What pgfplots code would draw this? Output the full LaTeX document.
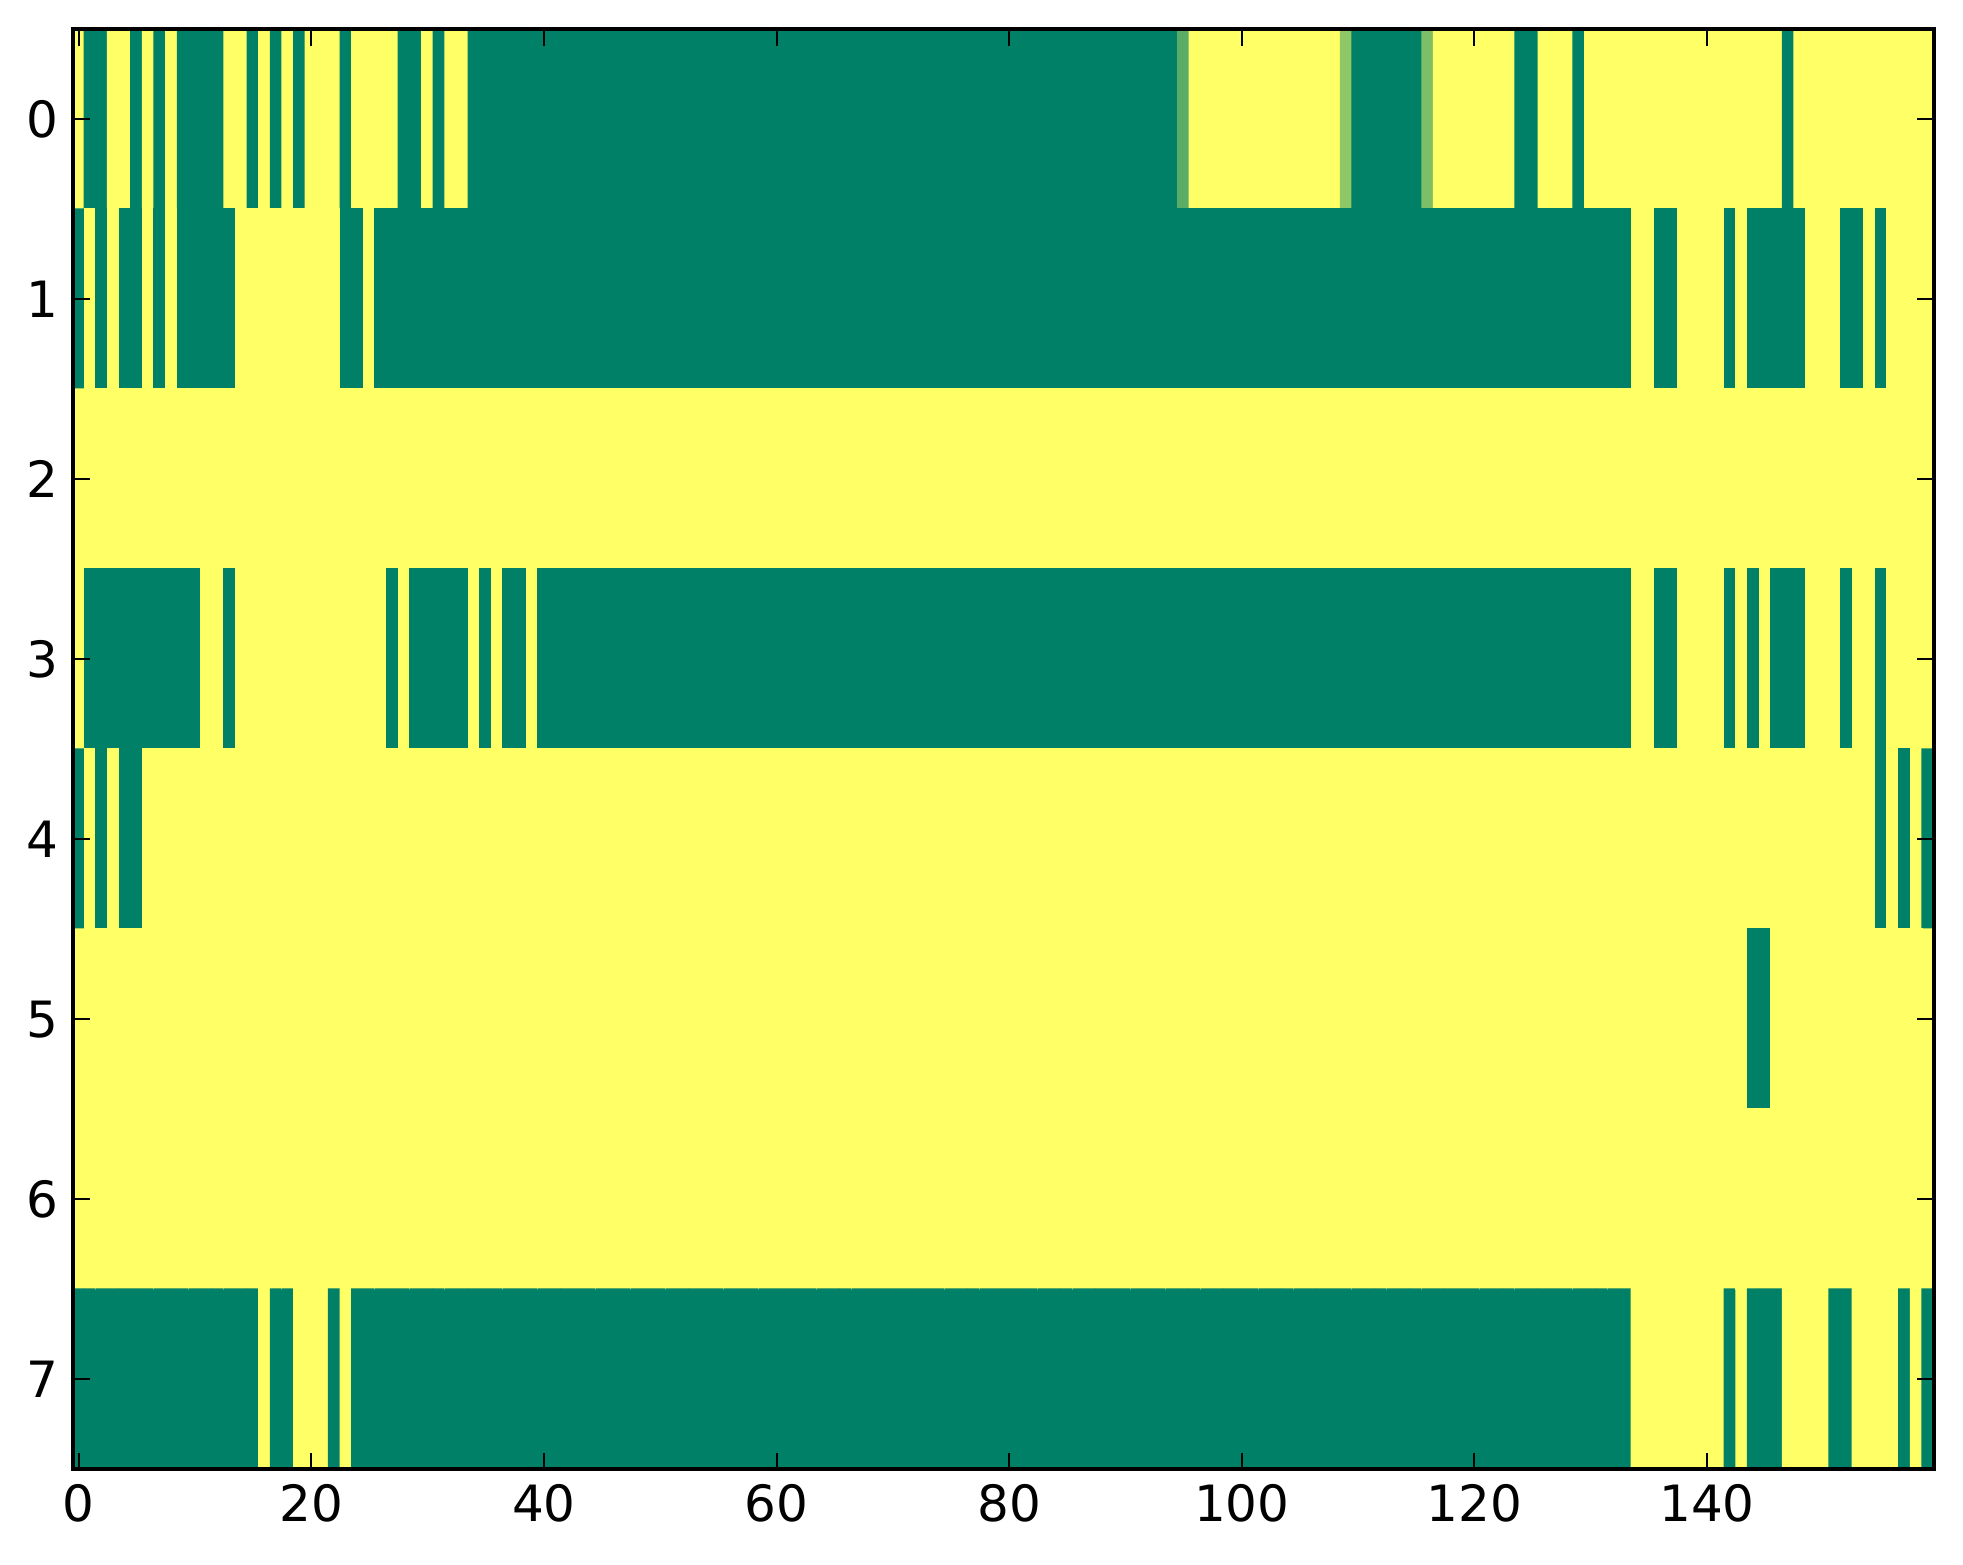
\documentclass[border=0pt]{standalone}
\usepackage{fontspec}
\setmainfont{DejaVu Sans}
\usepackage{pgfplots}
\usepackage{pgfplotstable}
\pgfplotsset{compat=1.18}
\newcommand\chk[2]{\pgfplotstablegetrowsof{#1}\ifnum\pgfplotsretval=160 \else\errmessage{ROW #2 HAS \pgfplotsretval\space ENTRIES}\fi}
\pgfplotstableread[row sep=\\,header=false]{
1\\0\\0\\1\\1\\0\\1\\0\\1\\0\\0\\0\\0\\1\\1\\0\\1\\0\\1\\0\\
1\\1\\1\\0\\1\\1\\1\\1\\0\\0\\1\\0\\1\\1\\0\\0\\0\\0\\0\\0\\
0\\0\\0\\0\\0\\0\\0\\0\\0\\0\\0\\0\\0\\0\\0\\0\\0\\0\\0\\0\\
0\\0\\0\\0\\0\\0\\0\\0\\0\\0\\0\\0\\0\\0\\0\\0\\0\\0\\0\\0\\
0\\0\\0\\0\\0\\0\\0\\0\\0\\0\\0\\0\\0\\0\\0\\0.35\\1\\1\\1\\1\\
1\\1\\1\\1\\1\\1\\1\\1\\1\\0.56\\0\\0\\0\\0\\0\\0\\0.49\\1\\1\\1\\
1\\1\\1\\1\\0\\0\\1\\1\\1\\0\\1\\1\\1\\1\\1\\1\\1\\1\\1\\1\\
1\\1\\1\\1\\1\\1\\1\\0\\1\\1\\1\\1\\1\\1\\1\\1\\1\\1\\1\\1\\
}\grid
\pgfplotstableread[row sep=\\,header=false]{
0\\1\\0\\1\\0\\0\\1\\0\\1\\0\\0\\0\\0\\0\\1\\1\\1\\1\\1\\1\\
1\\1\\1\\0\\0\\1\\0\\0\\0\\0\\0\\0\\0\\0\\0\\0\\0\\0\\0\\0\\
0\\0\\0\\0\\0\\0\\0\\0\\0\\0\\0\\0\\0\\0\\0\\0\\0\\0\\0\\0\\
0\\0\\0\\0\\0\\0\\0\\0\\0\\0\\0\\0\\0\\0\\0\\0\\0\\0\\0\\0\\
0\\0\\0\\0\\0\\0\\0\\0\\0\\0\\0\\0\\0\\0\\0\\0\\0\\0\\0\\0\\
0\\0\\0\\0\\0\\0\\0\\0\\0\\0\\0\\0\\0\\0\\0\\0\\0\\0\\0\\0\\
0\\0\\0\\0\\0\\0\\0\\0\\0\\0\\0\\0\\0\\0\\1\\1\\0\\0\\1\\1\\
1\\1\\0\\1\\0\\0\\0\\0\\0\\1\\1\\1\\0\\0\\1\\0\\1\\1\\1\\1\\
}\rB
\pgfplotstableread[row sep=\\,header=false]{
1\\1\\1\\1\\1\\1\\1\\1\\1\\1\\1\\1\\1\\1\\1\\1\\1\\1\\1\\1\\
1\\1\\1\\1\\1\\1\\1\\1\\1\\1\\1\\1\\1\\1\\1\\1\\1\\1\\1\\1\\
1\\1\\1\\1\\1\\1\\1\\1\\1\\1\\1\\1\\1\\1\\1\\1\\1\\1\\1\\1\\
1\\1\\1\\1\\1\\1\\1\\1\\1\\1\\1\\1\\1\\1\\1\\1\\1\\1\\1\\1\\
1\\1\\1\\1\\1\\1\\1\\1\\1\\1\\1\\1\\1\\1\\1\\1\\1\\1\\1\\1\\
1\\1\\1\\1\\1\\1\\1\\1\\1\\1\\1\\1\\1\\1\\1\\1\\1\\1\\1\\1\\
1\\1\\1\\1\\1\\1\\1\\1\\1\\1\\1\\1\\1\\1\\1\\1\\1\\1\\1\\1\\
1\\1\\1\\1\\1\\1\\1\\1\\1\\1\\1\\1\\1\\1\\1\\1\\1\\1\\1\\1\\
}\rC
\pgfplotstableread[row sep=\\,header=false]{
1\\0\\0\\0\\0\\0\\0\\0\\0\\0\\0\\1\\1\\0\\1\\1\\1\\1\\1\\1\\
1\\1\\1\\1\\1\\1\\1\\0\\1\\0\\0\\0\\0\\0\\1\\0\\1\\0\\0\\1\\
0\\0\\0\\0\\0\\0\\0\\0\\0\\0\\0\\0\\0\\0\\0\\0\\0\\0\\0\\0\\
0\\0\\0\\0\\0\\0\\0\\0\\0\\0\\0\\0\\0\\0\\0\\0\\0\\0\\0\\0\\
0\\0\\0\\0\\0\\0\\0\\0\\0\\0\\0\\0\\0\\0\\0\\0\\0\\0\\0\\0\\
0\\0\\0\\0\\0\\0\\0\\0\\0\\0\\0\\0\\0\\0\\0\\0\\0\\0\\0\\0\\
0\\0\\0\\0\\0\\0\\0\\0\\0\\0\\0\\0\\0\\0\\1\\1\\0\\0\\1\\1\\
1\\1\\0\\1\\0\\1\\0\\0\\0\\1\\1\\1\\0\\1\\1\\0\\1\\1\\1\\1\\
}\rD
\pgfplotstableread[row sep=\\,header=false]{
0\\1\\0\\1\\0\\0\\1\\1\\1\\1\\1\\1\\1\\1\\1\\1\\1\\1\\1\\1\\
1\\1\\1\\1\\1\\1\\1\\1\\1\\1\\1\\1\\1\\1\\1\\1\\1\\1\\1\\1\\
1\\1\\1\\1\\1\\1\\1\\1\\1\\1\\1\\1\\1\\1\\1\\1\\1\\1\\1\\1\\
1\\1\\1\\1\\1\\1\\1\\1\\1\\1\\1\\1\\1\\1\\1\\1\\1\\1\\1\\1\\
1\\1\\1\\1\\1\\1\\1\\1\\1\\1\\1\\1\\1\\1\\1\\1\\1\\1\\1\\1\\
1\\1\\1\\1\\1\\1\\1\\1\\1\\1\\1\\1\\1\\1\\1\\1\\1\\1\\1\\1\\
1\\1\\1\\1\\1\\1\\1\\1\\1\\1\\1\\1\\1\\1\\1\\1\\1\\1\\1\\1\\
1\\1\\1\\1\\1\\1\\1\\1\\1\\1\\1\\1\\1\\1\\1\\0\\1\\0\\1\\0\\
}\rE
\pgfplotstableread[row sep=\\,header=false]{
1\\1\\1\\1\\1\\1\\1\\1\\1\\1\\1\\1\\1\\1\\1\\1\\1\\1\\1\\1\\
1\\1\\1\\1\\1\\1\\1\\1\\1\\1\\1\\1\\1\\1\\1\\1\\1\\1\\1\\1\\
1\\1\\1\\1\\1\\1\\1\\1\\1\\1\\1\\1\\1\\1\\1\\1\\1\\1\\1\\1\\
1\\1\\1\\1\\1\\1\\1\\1\\1\\1\\1\\1\\1\\1\\1\\1\\1\\1\\1\\1\\
1\\1\\1\\1\\1\\1\\1\\1\\1\\1\\1\\1\\1\\1\\1\\1\\1\\1\\1\\1\\
1\\1\\1\\1\\1\\1\\1\\1\\1\\1\\1\\1\\1\\1\\1\\1\\1\\1\\1\\1\\
1\\1\\1\\1\\1\\1\\1\\1\\1\\1\\1\\1\\1\\1\\1\\1\\1\\1\\1\\1\\
1\\1\\1\\1\\0\\0\\1\\1\\1\\1\\1\\1\\1\\1\\1\\1\\1\\1\\1\\1\\
}\rF
\pgfplotstableread[row sep=\\,header=false]{
1\\1\\1\\1\\1\\1\\1\\1\\1\\1\\1\\1\\1\\1\\1\\1\\1\\1\\1\\1\\
1\\1\\1\\1\\1\\1\\1\\1\\1\\1\\1\\1\\1\\1\\1\\1\\1\\1\\1\\1\\
1\\1\\1\\1\\1\\1\\1\\1\\1\\1\\1\\1\\1\\1\\1\\1\\1\\1\\1\\1\\
1\\1\\1\\1\\1\\1\\1\\1\\1\\1\\1\\1\\1\\1\\1\\1\\1\\1\\1\\1\\
1\\1\\1\\1\\1\\1\\1\\1\\1\\1\\1\\1\\1\\1\\1\\1\\1\\1\\1\\1\\
1\\1\\1\\1\\1\\1\\1\\1\\1\\1\\1\\1\\1\\1\\1\\1\\1\\1\\1\\1\\
1\\1\\1\\1\\1\\1\\1\\1\\1\\1\\1\\1\\1\\1\\1\\1\\1\\1\\1\\1\\
1\\1\\1\\1\\1\\1\\1\\1\\1\\1\\1\\1\\1\\1\\1\\1\\1\\1\\1\\1\\
}\rG
\pgfplotstableread[row sep=\\,header=false]{
0\\0\\0\\0\\0\\0\\0\\0\\0\\0\\0\\0\\0\\0\\0\\0\\1\\0\\0\\1\\
1\\1\\0\\1\\0\\0\\0\\0\\0\\0\\0\\0\\0\\0\\0\\0\\0\\0\\0\\0\\
0\\0\\0\\0\\0\\0\\0\\0\\0\\0\\0\\0\\0\\0\\0\\0\\0\\0\\0\\0\\
0\\0\\0\\0\\0\\0\\0\\0\\0\\0\\0\\0\\0\\0\\0\\0\\0\\0\\0\\0\\
0\\0\\0\\0\\0\\0\\0\\0\\0\\0\\0\\0\\0\\0\\0\\0\\0\\0\\0\\0\\
0\\0\\0\\0\\0\\0\\0\\0\\0\\0\\0\\0\\0\\0\\0\\0\\0\\0\\0\\0\\
0\\0\\0\\0\\0\\0\\0\\0\\0\\0\\0\\0\\0\\0\\1\\1\\1\\1\\1\\1\\
1\\1\\0\\1\\0\\0\\0\\1\\1\\1\\1\\0\\0\\1\\1\\1\\1\\0\\1\\0\\
}\rH
\chk{\grid}{0}\chk{\rB}{1}\chk{\rC}{2}\chk{\rD}{3}
\chk{\rE}{4}\chk{\rF}{5}\chk{\rG}{6}\chk{\rH}{7}
\pgfplotstablevertcat{\grid}{\rB}
\pgfplotstablevertcat{\grid}{\rC}
\pgfplotstablevertcat{\grid}{\rD}
\pgfplotstablevertcat{\grid}{\rE}
\pgfplotstablevertcat{\grid}{\rF}
\pgfplotstablevertcat{\grid}{\rG}
\pgfplotstablevertcat{\grid}{\rH}
\pgfplotstablecreatecol[create col/expr={mod(\pgfplotstablerow,160)}]{cx}\grid
\pgfplotstablecreatecol[create col/expr={floor(\pgfplotstablerow/160)}]{cy}\grid
\begin{document}
\begin{tikzpicture}
\begin{axis}[
  scale only axis, width=446.6pt, height=345.6pt,
  xmin=-0.5, xmax=159.5, ymin=-0.5, ymax=7.5, y dir=reverse,
  enlargelimits=false, axis on top,
  xtick={0,20,...,140}, ytick={0,...,7},
  colormap={summer}{rgb=(0,0.5,0.4) rgb=(1,1,0.4)},
  point meta min=0, point meta max=1,
  tick align=inside, major tick length=4pt,
  every tick/.style={black, line width=0.5pt},
  axis line style={line width=1pt},
  ticklabel style={font=\fontsize{12}{14.4}\selectfont},
  /pgf/number format/assume math mode=true,
]
\addplot[matrix plot*, mesh/cols=160, point meta=explicit]
  table[x=cx, y=cy, meta index=0] {\grid};
\end{axis}
\path ([shift={(-17.5pt,-22.8pt)}]current axis.south west) rectangle ([shift={(7pt,7pt)}]current axis.north east);
\end{tikzpicture}
\end{document}
